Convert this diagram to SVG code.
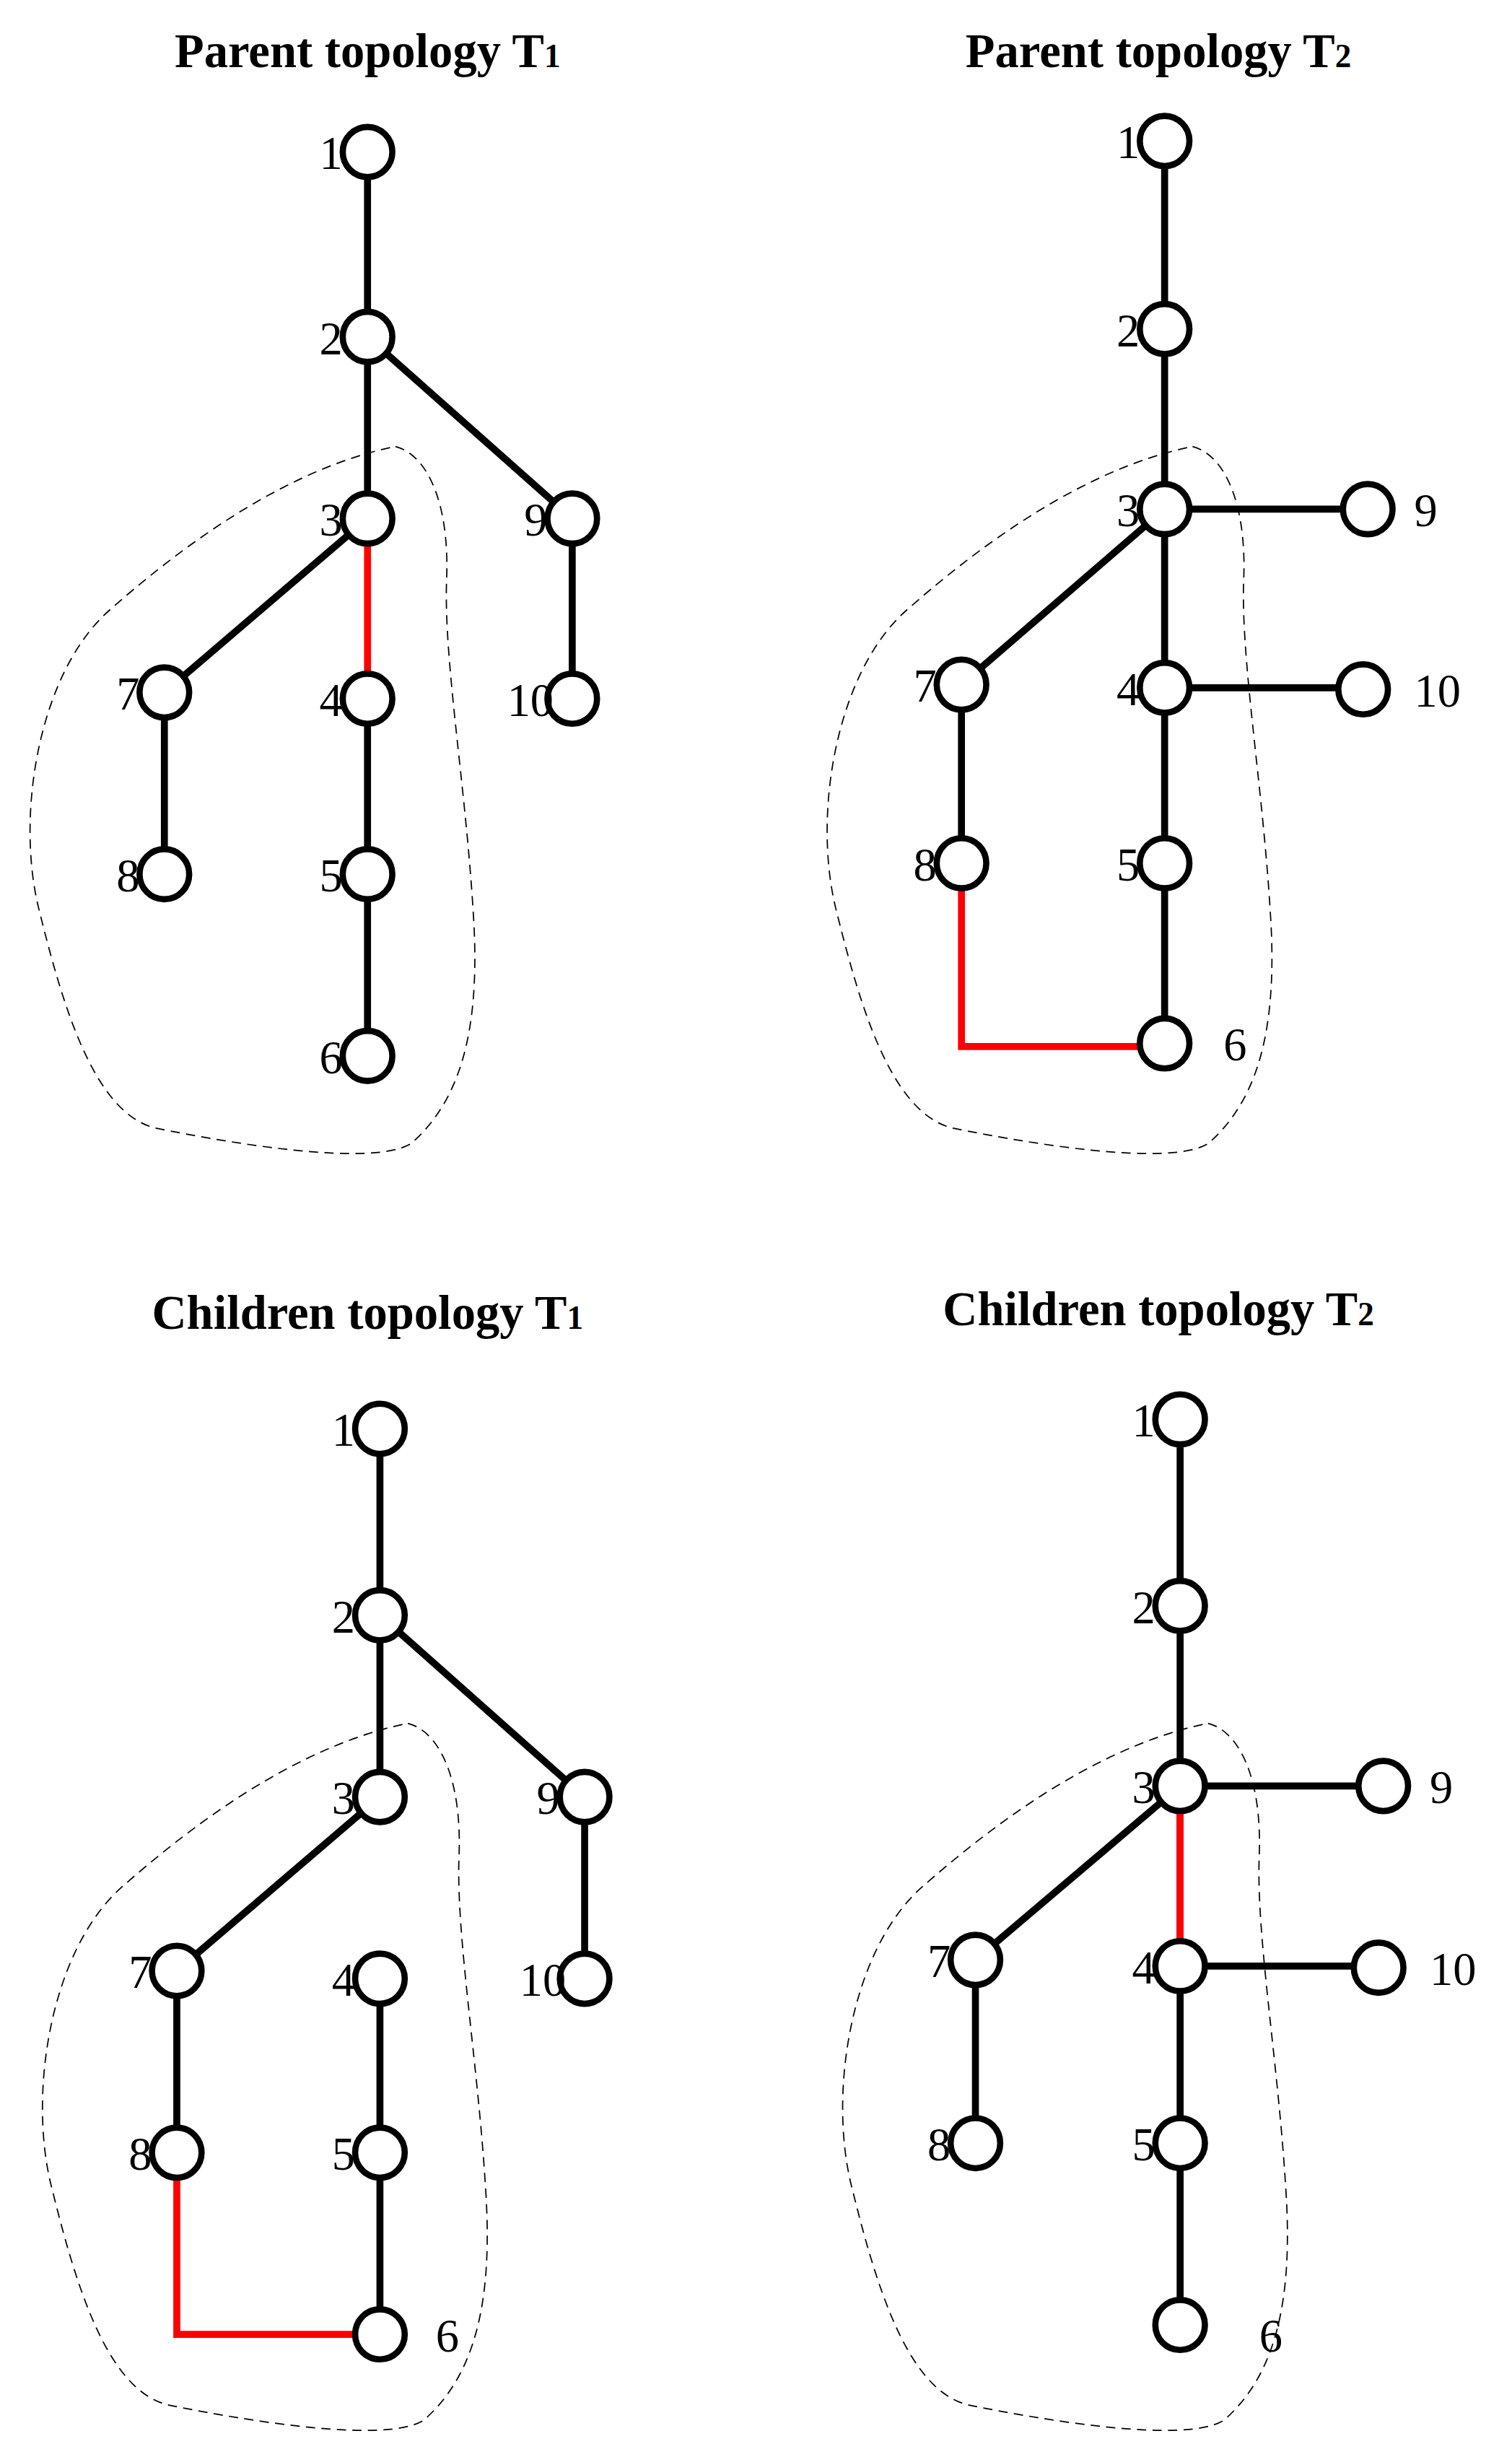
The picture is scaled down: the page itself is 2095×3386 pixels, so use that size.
<svg xmlns="http://www.w3.org/2000/svg" xmlns:xlink="http://www.w3.org/1999/xlink" width="2095" height="3386" viewBox="0 0 2095 3386">
<style>
.n{fill:#fff;stroke:#000;stroke-width:4}
.e{stroke:#000;stroke-width:4.5;fill:none}
.r{stroke:#f00;stroke-width:4.5;fill:none}
.b{fill:none;stroke:#000;stroke-width:0.8;stroke-dasharray:6,4}
.l{font-family:"Liberation Serif",serif;font-size:30px;fill:#000}
.le{text-anchor:end}
.t{font-family:"Liberation Serif",serif;font-size:31px;font-weight:bold;text-anchor:middle}
</style>
<defs>
<path id="blob" d="M255,285 C275,290 290,320 288,370 C286,420 300,500 305,580 C310,650 300,700 265,730 C240,745 150,730 100,720 C60,710 40,640 25,580 C10,520 25,430 70,390 C110,355 180,300 255,285 Z"/>
</defs>
<rect width="2095" height="3386" fill="#fff"/>
<g transform="scale(2.1487,2.1705)">
<g id="titles">
<text class="t" x="237" y="43">Parent topology T<tspan font-size="21">1</tspan></text>
<text class="t" x="747" y="43">Parent topology T<tspan font-size="21">2</tspan></text>
<text class="t" x="237" y="848">Children topology T<tspan font-size="21">1</tspan></text>
<text class="t" x="747" y="846">Children topology T<tspan font-size="21">2</tspan></text>
</g>
<g id="boundaries">
<use xlink:href="#blob" class="b"/>
<use xlink:href="#blob" class="b" transform="translate(514,0)"/>
<use xlink:href="#blob" class="b" transform="translate(8,815)"/>
<use xlink:href="#blob" class="b" transform="translate(524,815)"/>
</g>
<g id="connectors">
<path class="e" d="M237,97V331M237,215L369,331M369,331V446M237,331L106,442M106,442V558M237,446V674"/>
<path class="r" d="M237,331V446"/>
<path class="e" d="M751,90V551M751,325H882M751,325L620,437M620,437V551M751,439H879M751,439V666"/>
<path class="r" d="M620,551V668H751"/>
<path class="e" d="M245,912V1147M245,1031L377,1147M377,1147V1263M245,1147L114,1258M114,1258V1374M245,1263V1490"/>
<path class="r" d="M114,1374V1490H245"/>
<path class="e" d="M761,906V1484M761,1140H892M761,1140L629,1251M629,1251V1368M761,1255H889"/>
<path class="r" d="M761,1140V1255"/>
</g>
<g id="TL">
<g id="tl1"><circle class="n" cx="237" cy="97" r="16"/><text class="l le" x="221" y="108">1</text></g>
<g id="tl2"><circle class="n" cx="237" cy="215" r="16"/><text class="l le" x="221" y="226">2</text></g>
<g id="tl3"><circle class="n" cx="237" cy="331" r="16"/><text class="l le" x="221" y="342">3</text></g>
<g id="tl4"><circle class="n" cx="237" cy="446" r="16"/><text class="l le" x="221" y="457">4</text></g>
<g id="tl5"><circle class="n" cx="237" cy="558" r="16"/><text class="l le" x="221" y="569">5</text></g>
<g id="tl6"><circle class="n" cx="237" cy="674" r="16"/><text class="l le" x="221" y="685">6</text></g>
<g id="tl7"><circle class="n" cx="106" cy="442" r="16"/><text class="l le" x="90" y="453">7</text></g>
<g id="tl8"><circle class="n" cx="106" cy="558" r="16"/><text class="l le" x="90" y="569">8</text></g>
<g id="tl9"><circle class="n" cx="369" cy="331" r="16"/><text class="l le" x="353" y="342">9</text></g>
<g id="tl10"><circle class="n" cx="369" cy="446" r="16"/><text class="l le" x="357" y="457">10</text></g>
</g>
<g id="TR">
<g id="tr1"><circle class="n" cx="751" cy="90" r="16"/><text class="l le" x="735" y="101">1</text></g>
<g id="tr2"><circle class="n" cx="751" cy="210" r="16"/><text class="l le" x="735" y="221">2</text></g>
<g id="tr3"><circle class="n" cx="751" cy="325" r="16"/><text class="l le" x="735" y="336">3</text></g>
<g id="tr4"><circle class="n" cx="751" cy="439" r="16"/><text class="l le" x="735" y="450">4</text></g>
<g id="tr5"><circle class="n" cx="751" cy="551" r="16"/><text class="l le" x="735" y="562">5</text></g>
<g id="tr6"><circle class="n" cx="751" cy="666" r="16"/><text class="l" x="789" y="677">6</text></g>
<g id="tr7"><circle class="n" cx="620" cy="437" r="16"/><text class="l le" x="604" y="448">7</text></g>
<g id="tr8"><circle class="n" cx="620" cy="551" r="16"/><text class="l le" x="604" y="562">8</text></g>
<g id="tr9"><circle class="n" cx="882" cy="325" r="16"/><text class="l" x="912" y="336">9</text></g>
<g id="tr10"><circle class="n" cx="879" cy="440" r="16"/><text class="l" x="912" y="451">10</text></g>
</g>
<g id="BL">
<g id="bl1"><circle class="n" cx="245" cy="912" r="16"/><text class="l le" x="229" y="923">1</text></g>
<g id="bl2"><circle class="n" cx="245" cy="1031" r="16"/><text class="l le" x="229" y="1042">2</text></g>
<g id="bl3"><circle class="n" cx="245" cy="1147" r="16"/><text class="l le" x="229" y="1158">3</text></g>
<g id="bl4"><circle class="n" cx="245" cy="1263" r="16"/><text class="l le" x="229" y="1274">4</text></g>
<g id="bl5"><circle class="n" cx="245" cy="1374" r="16"/><text class="l le" x="229" y="1385">5</text></g>
<g id="bl6"><circle class="n" cx="245" cy="1490" r="16"/><text class="l" x="281" y="1501">6</text></g>
<g id="bl7"><circle class="n" cx="114" cy="1258" r="16"/><text class="l le" x="98" y="1269">7</text></g>
<g id="bl8"><circle class="n" cx="114" cy="1374" r="16"/><text class="l le" x="98" y="1385">8</text></g>
<g id="bl9"><circle class="n" cx="377" cy="1147" r="16"/><text class="l le" x="361" y="1158">9</text></g>
<g id="bl10"><circle class="n" cx="377" cy="1263" r="16"/><text class="l le" x="365" y="1274">10</text></g>
</g>
<g id="BR">
<g id="br1"><circle class="n" cx="761" cy="906" r="16"/><text class="l le" x="745" y="917">1</text></g>
<g id="br2"><circle class="n" cx="761" cy="1025" r="16"/><text class="l le" x="745" y="1036">2</text></g>
<g id="br3"><circle class="n" cx="761" cy="1140" r="16"/><text class="l le" x="745" y="1151">3</text></g>
<g id="br4"><circle class="n" cx="761" cy="1255" r="16"/><text class="l le" x="745" y="1266">4</text></g>
<g id="br5"><circle class="n" cx="761" cy="1368" r="16"/><text class="l le" x="745" y="1379">5</text></g>
<g id="br6"><circle class="n" cx="761" cy="1484" r="16"/><text class="l" x="812" y="1501">6</text></g>
<g id="br7"><circle class="n" cx="629" cy="1251" r="16"/><text class="l le" x="613" y="1262">7</text></g>
<g id="br8"><circle class="n" cx="629" cy="1368" r="16"/><text class="l le" x="613" y="1379">8</text></g>
<g id="br9"><circle class="n" cx="892" cy="1140" r="16"/><text class="l" x="922" y="1151">9</text></g>
<g id="br10"><circle class="n" cx="889" cy="1256" r="16"/><text class="l" x="922" y="1267">10</text></g>
</g>
</g>
</svg>
